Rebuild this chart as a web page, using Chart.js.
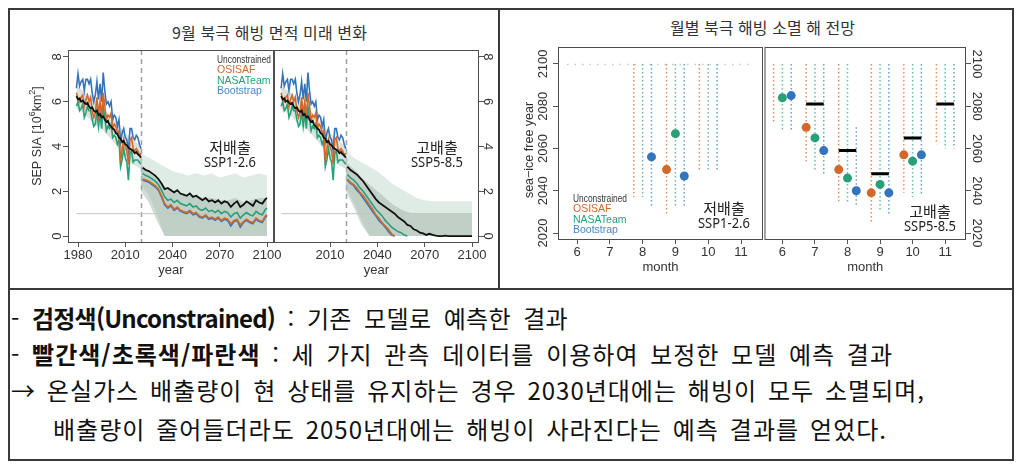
<!DOCTYPE html>
<html lang="ko">
<head>
<meta charset="utf-8">
<title>북극 해빙 전망</title>
<script src="https://cdn.jsdelivr.net/npm/chart.js@4.4.1/dist/chart.umd.min.js"></script>
<style>
  body { margin: 0; width: 1024px; height: 470px; background: #fff; position: relative; overflow: hidden; }
  .abs { position: absolute; }
  #frame { left: 8px; top: 8px; width: 1006px; height: 453px; border: 2px solid #3a3a3a; box-sizing: border-box; }
  #hdiv { left: 8px; top: 288px; width: 1006px; height: 2px; background: #3a3a3a; }
  #vdiv { left: 498px; top: 8px; width: 2px; height: 281px; background: #3a3a3a; }
  .title { font-family: "Noto Sans CJK KR", sans-serif; font-size: 16px; color: #333; white-space: nowrap; line-height: 22px; }
  .note { font-family: "Noto Sans CJK KR", sans-serif; font-size: 24px; color: #111; white-space: nowrap; line-height: 28px; letter-spacing: 1px; }
  .note b { font-weight: 700; }
  #note1 { letter-spacing: 0.3px; }
  #note1 b { letter-spacing: -0.8px; }
  canvas { position: absolute; }
</style>
</head>
<body>
<div id="frame" class="abs"></div>
<div id="hdiv" class="abs"></div>
<div id="vdiv" class="abs"></div>
<div class="abs title fit" data-w="195" style="left:172px; top:21px;">9월 북극 해빙 면적 미래 변화</div>
<div class="abs title fit" data-w="185" style="left:670px; top:16px;">월별 북극 해빙 소멸 해 전망</div>

<canvas id="sia-126" width="270" height="250" style="left:20px; top:40px;"></canvas>
<canvas id="sia-585" width="230" height="250" style="left:270px; top:40px;"></canvas>
<canvas id="free-126" width="270" height="250" style="left:500px; top:40px;"></canvas>
<canvas id="free-585" width="250" height="250" style="left:760px; top:40px;"></canvas>

<div id="note1" class="abs note wfit" data-w="557" style="left:11px; top:304px;">- <b>검정색(Unconstrained)</b> : 기존 모델로 예측한 결과</div>
<div class="abs note wfit" data-w="882" style="left:11px; top:340px;">- <b>빨간색/초록색/파란색</b> : 세 가지 관측 데이터를 이용하여 보정한 모델 예측 결과</div>
<div class="abs note wfit" data-w="914" style="left:11px; top:376px;">→ 온실가스 배출량이 현 상태를 유지하는 경우 2030년대에는 해빙이 모두 소멸되며,</div>
<div class="abs note wfit" data-w="834" style="left:53px; top:415px;">배출량이 줄어들더라도 2050년대에는 해빙이 사라진다는 예측 결과를 얻었다.</div>

<script>
// ---- September sea-ice area (10^6 km^2) ----
const histYears = [1979,1980,1981,1982,1983,1984,1985,1986,1987,1988,1989,1990,1991,1992,1993,1994,1995,1996,1997,1998,1999,2000,2001,2002,2003,2004,2005,2006,2007,2008,2009,2010,2011,2012,2013,2014,2015,2016,2017,2018,2019,2020];
const histUnc  = [6.25,6.1,6.15,6.0,6.05,5.95,5.9,5.95,5.8,5.7,5.75,5.6,5.55,5.6,5.4,5.45,5.3,5.35,5.2,5.1,5.15,4.95,4.9,4.8,4.75,4.6,4.55,4.4,4.35,4.2,4.25,4.1,4.05,3.95,3.9,3.85,3.8,3.7,3.75,3.65,3.6,3.5];
const histOsi  = [6.4,6.1,6.0,6.2,6.3,5.8,6.1,6.3,6.0,6.2,5.6,5.3,5.5,6.2,5.4,6.0,5.3,6.4,5.8,5.2,5.4,5.3,5.5,4.8,5.0,4.9,4.6,4.7,3.3,3.9,4.3,4.0,3.8,3.2,4.3,4.4,3.9,3.8,3.9,3.8,3.6,3.7];
const histNasa = [5.8,6.0,5.6,5.7,5.9,5.3,5.5,5.8,5.6,5.6,5.2,4.9,5.0,5.6,4.9,5.5,4.8,5.8,5.3,4.7,4.9,4.8,5.0,4.4,4.5,4.4,4.1,4.3,3.1,3.4,3.9,3.5,3.3,2.5,3.7,3.8,3.3,3.4,3.4,3.4,3.3,3.2];
const histBoot = [6.6,7.25,6.7,6.9,7.0,6.5,7.0,7.0,6.8,7.0,6.4,6.0,6.3,6.9,6.1,6.8,6.0,7.3,6.5,5.9,6.0,5.8,6.0,5.2,5.4,5.3,4.9,5.2,4.2,4.6,4.8,4.4,4.3,3.8,4.8,4.8,4.4,4.3,4.5,4.4,4.1,3.9];

const histBandYears = [1979,1985,1990,1995,2000,2005,2010,2015,2020];
const histBandHi = [6.7,6.4,6.1,5.8,5.4,5.0,4.6,4.3,4.0];
const histBandLo = [5.7,5.4,5.0,4.8,4.4,4.0,3.6,3.2,3.0];

const futYears = [2021,2023,2025,2027,2029,2031,2033,2035,2037,2039,2041,2043,2045,2047,2049,2051,2053,2055,2057,2059,2061,2063,2065,2067,2069,2071,2073,2075,2077,2079,2081,2083,2085,2087,2089,2091,2093,2095,2097,2099,2100];

const ssp126Unc  = [3.05,2.95,2.9,2.8,2.7,2.55,2.35,2.1,2.15,2.05,1.95,2.05,1.9,1.85,1.8,1.9,1.75,1.8,1.7,1.6,1.7,1.55,1.6,1.5,1.6,1.45,1.55,1.5,1.3,1.45,1.55,1.3,1.4,1.55,1.45,1.35,1.6,1.5,1.45,1.65,1.7];
const ssp126Osi  = [2.55,2.5,2.45,2.35,2.25,2.1,1.8,1.45,1.3,1.4,1.2,1.3,1.15,1.1,1.05,1.15,1.0,1.05,0.9,0.85,0.95,0.8,0.85,0.75,0.85,0.7,0.8,0.75,0.55,0.7,0.75,0.5,0.65,0.75,0.65,0.6,0.8,0.7,0.65,0.9,0.95];
const ssp126Nasa = [2.8,2.7,2.65,2.55,2.45,2.3,2.05,1.75,1.6,1.65,1.5,1.6,1.45,1.4,1.35,1.45,1.3,1.35,1.2,1.15,1.25,1.1,1.15,1.05,1.15,1.0,1.1,1.05,0.85,1.0,1.05,0.8,0.95,1.05,0.95,0.9,1.1,1.0,0.95,1.2,1.25];
const ssp126Boot = [2.5,2.45,2.4,2.3,2.2,2.05,1.75,1.4,1.25,1.35,1.15,1.25,1.1,1.05,1.0,1.1,0.95,1.0,0.85,0.8,0.9,0.75,0.8,0.7,0.8,0.65,0.75,0.7,0.45,0.65,0.7,0.4,0.6,0.7,0.6,0.55,0.75,0.65,0.6,0.85,0.9];

const ssp585Unc  = [3.1,2.95,2.85,2.75,2.6,2.45,2.25,2.05,1.85,1.65,1.5,1.4,1.3,1.2,1.1,1.0,0.85,0.75,0.65,0.5,0.45,0.3,0.25,0.15,0.12,0.05,0.1,0.05,0.02,0,0,0.02,0,0,0,0,0,0,0,0,0];
const ssp585Osi  = [2.55,2.4,2.3,2.15,1.95,1.8,1.6,1.4,1.2,0.95,0.8,0.6,0.45,0.3,0.1,0,null,null,null,null,null,null,null,null,null,null,null,null,null,null,null,null,null,null,null,null,null,null,null,null,null];
const ssp585Nasa = [2.75,2.6,2.5,2.35,2.15,2.0,1.8,1.6,1.4,1.2,1.05,0.9,0.7,0.55,0.4,0.3,0.2,0.15,0.05,0,null,null,null,null,null,null,null,null,null,null,null,null,null,null,null,null,null,null,null,null,null];
const ssp585Boot = [2.5,2.35,2.25,2.05,1.9,1.7,1.5,1.3,1.1,0.9,0.7,0.55,0.4,0.2,0.05,0,null,null,null,null,null,null,null,null,null,null,null,null,null,null,null,null,null,null,null,null,null,null,null,null,null];

const bandYears = [2020,2025,2030,2035,2040,2045,2050,2055,2060,2065,2070,2075,2080,2085,2090,2095,2100];
const ssp126OuterHi = [3.7,3.5,3.3,3.1,2.9,2.8,2.7,2.8,2.7,2.8,2.6,2.7,2.8,2.6,2.7,2.8,2.7];
const ssp126OuterLo = [2.3,1.8,1.0,0,0,0,0,0,0,0,0,0,0,0,0,0,0];
const ssp126InnerHi = [3.2,2.9,2.6,2.2,2.0,1.9,1.8,1.8,1.7,1.7,1.6,1.6,1.7,1.5,1.6,1.7,1.7];
const ssp126InnerLo = [2.0,1.5,0.7,0,0,0,0,0,0,0,0,0,0,0,0,0,0];
const ssp585OuterHi = [3.8,3.5,3.3,3.1,2.9,2.6,2.3,2.1,1.9,1.7,1.6,1.55,1.55,1.55,1.55,1.55,1.55];
const ssp585OuterLo = [2.2,1.5,0.7,0,0,0,0,0,0,0,0,0,0,0,0,0,0];
const ssp585InnerHi = [3.3,3.0,2.6,2.3,2.0,1.7,1.4,1.2,1.05,1.0,1.0,1.0,1.0,1.0,1.0,1.0,1.0];
const ssp585InnerLo = [2.0,1.3,0.5,0,0,0,0,0,0,0,0,0,0,0,0,0,0];

const refLevel = 1;
const splitYear = 2020;
const areaTicks = [0,2,4,6,8];
const yearTicksA = [1980,2010,2040,2070,2100];
const yearTicksB = [2010,2040,2070,2100];

// ---- sea-ice free year by month ----
const months = [6,7,8,9,10,11];
const freeYearTicks = [2020,2040,2060,2080,2100];
const horizonYear = 2100;

const osiHi126  = [null,null,2100,2100,2100,null];
const osiLo126  = [null,null,2037,2028,2050,null];
const nasaHi126 = [null,null,2100,2100,2100,null];
const nasaLo126 = [null,null,2037,2033,2050,null];
const bootHi126 = [null,null,2100,2100,2100,null];
const bootLo126 = [null,null,2033,2033,2050,null];
const osiPt126  = [null,null,null,2050,null,null];
const nasaPt126 = [null,null,null,2067,null,null];
const bootPt126 = [null,null,2056,2047,null,null];
const uncBar126 = [null,null,null,null,null,null];

const osiHi585  = [2100,2100,2100,2100,2100,2100];
const osiLo585  = [2072,2054,2035,2025,2039,2062];
const nasaHi585 = [2100,2100,2100,2100,2100,2100];
const nasaLo585 = [2069,2049,2034,2030,2037,2060];
const bootHi585 = [2100,2100,2070,2100,2100,2100];
const bootLo585 = [2069,2048,2033,2028,2038,2060];
const osiPt585  = [null,2070,2050,2039,2057,null];
const nasaPt585 = [2084,2065,2046,2043,2054,null];
const bootPt585 = [2085,2059,2040,2039,2057,null];
const uncBar585 = [null,2081,2059,2048,2065,2081];

const legendNames = ['Unconstrained','OSISAF','NASATeam','Bootstrap'];

// ---- styles ----
const FONT = '"Liberation Sans", Arial, sans-serif';
const KFONT = '"Noto Sans CJK KR", sans-serif';
const colUnc = '#111111', colOsi = '#d2692a', colNasa = '#27a07a', colBoot = '#3474bd';
const dotOsi = '#e39066', dotNasa = '#6cbcac', dotBoot = '#6c9dd3';
const legendColors = ['#333333', colOsi, colNasa, '#4a86c8'];
const DODGE = 0.27;

Chart.defaults.font.family = FONT;
Chart.defaults.color = '#333';

function xy(xs, ys) {
  return xs.map((x, i) => ({x: x, y: ys[i]}));
}

function line(xs, ys, color, width, order) {
  return {data: xy(xs, ys), borderColor: color, borderWidth: width, pointRadius: 0, fill: false, order: order, tension: 0};
}

function band(xs, hi, lo, color, order) {
  return [
    {data: xy(xs, hi), borderColor: 'rgba(0,0,0,0)', pointRadius: 0, fill: false, order: order},
    {data: xy(xs, lo), borderColor: 'rgba(0,0,0,0)', pointRadius: 0, fill: '-1', backgroundColor: color, order: order}
  ];
}

function rangeLine(offset, hi, lo, color) {
  const out = [];
  months.forEach((m, i) => {
    if (lo[i] == null) return;
    out.push({x: m + offset, y: hi[i]}, {x: m + offset, y: lo[i]}, {x: m + offset, y: null});
  });
  return {data: out, borderColor: color, borderWidth: 1.5, borderDash: [1.5, 2.5], pointRadius: 0, fill: false, order: 6};
}

function dots(offset, vals, color) {
  return {data: xy(months.map(m => m + offset), vals), showLine: false, pointRadius: 4.5, pointHoverRadius: 4.5,
    pointBorderWidth: 0, pointBackgroundColor: color, borderColor: color, order: 2};
}

function bars(vals) {
  const out = [];
  months.forEach((m, i) => {
    if (vals[i] == null) return;
    out.push({x: m - DODGE, y: vals[i]}, {x: m + DODGE, y: vals[i]}, {x: m + DODGE, y: null});
  });
  return {data: out, borderColor: '#000', borderWidth: 3, pointRadius: 0, fill: false, order: 1};
}

function drawRich(ctx, parts, size) {
  const small = Math.round(size * 0.7);
  let w = 0;
  parts.forEach(p => {
    ctx.font = (p.sup ? small : size) + 'px ' + FONT;
    p.w = ctx.measureText(p.t).width;
    w += p.w;
  });
  let x = -w / 2;
  ctx.textAlign = 'left';
  parts.forEach(p => {
    ctx.font = (p.sup ? small : size) + 'px ' + FONT;
    ctx.fillText(p.t, x, p.sup ? -size * 0.4 : 0);
    x += p.w;
  });
}

const deco = {
  id: 'deco',
  beforeDatasetsDraw(chart, args, o) {
    const {ctx, chartArea: a, scales: {x, y}} = chart;
    ctx.save();
    if (o.split != null) {
      const px = Math.round(x.getPixelForValue(o.split)) + 0.5;
      ctx.strokeStyle = '#a0a0a0';
      ctx.lineWidth = 1.5;
      ctx.setLineDash([5, 4]);
      ctx.beginPath(); ctx.moveTo(px, a.top); ctx.lineTo(px, a.bottom); ctx.stroke();
    }
    if (o.horizon != null) {
      const py = Math.round(y.getPixelForValue(o.horizon)) + 0.5;
      ctx.strokeStyle = '#c8c8c8';
      ctx.lineWidth = 1.5;
      ctx.setLineDash([1.5, 6]);
      ctx.beginPath(); ctx.moveTo(a.left + 9, py); ctx.lineTo(a.right - 10, py); ctx.stroke();
    }
    ctx.restore();
  },
  afterDraw(chart, args, o) {
    const {ctx, chartArea: a, scales: {y}} = chart;
    ctx.save();
    ctx.strokeStyle = '#4d4d4d';
    ctx.lineWidth = 1;
    ctx.strokeRect(a.left + 0.5, a.top + 0.5, a.right - a.left - 1, a.bottom - a.top - 1);

    ctx.fillStyle = '#333';
    ctx.textBaseline = 'middle';
    ctx.textAlign = 'center';
    ctx.font = '13px ' + FONT;
    y.ticks.forEach(t => {
      ctx.save();
      ctx.translate(o.yLabelX, y.getPixelForValue(t.value));
      ctx.rotate(o.yLabelRot);
      ctx.fillText(String(t.value), 0, 0);
      ctx.restore();
    });
    ctx.fillText(o.xTitle, (a.left + a.right) / 2, a.bottom + 27);

    if (o.yTitle) {
      ctx.save();
      ctx.translate(o.yTitle.x, o.yTitle.y);
      ctx.rotate(-Math.PI / 2);
      drawRich(ctx, o.yTitle.parts, 12.5);
      ctx.restore();
    }

    if (o.legend) {
      ctx.textAlign = 'left';
      ctx.font = '10.5px ' + FONT;
      legendNames.forEach((n, i) => {
        ctx.fillStyle = legendColors[i];
        ctx.fillText(n, o.legend.x, o.legend.y + i * 10.4, 54);
      });
    }

    ctx.fillStyle = '#222';
    ctx.textAlign = 'center';
    ctx.font = '15px ' + KFONT;
    ctx.fillText(o.note[0], o.note[2], o.note[3]);
    ctx.font = '15px "Noto Sans", sans-serif';
    ctx.fillText(o.note[1], o.note[2], o.note[3] + 16, 52);
    ctx.restore();
  }
};

function axisX(min, max, ticks, height) {
  return {
    type: 'linear', min: min, max: max,
    afterBuildTicks: s => { s.ticks = ticks.map(v => ({value: v})); },
    afterFit: s => { s.height = height; },
    ticks: {autoSkip: false, maxRotation: 0, minRotation: 0, padding: 1, color: '#333', font: {size: 13}, callback: v => String(v)},
    grid: {display: true, drawOnChartArea: false, drawTicks: true, tickLength: 4, color: '#555'},
    border: {display: false}
  };
}

function axisY(min, max, ticks, position, width) {
  return {
    type: 'linear', min: min, max: max, position: position,
    afterBuildTicks: s => { s.ticks = ticks.map(v => ({value: v})); },
    afterFit: s => { s.width = width; },
    ticks: {display: false},
    grid: {display: true, drawOnChartArea: false, drawTicks: true, tickLength: 5, color: '#555'},
    border: {display: false}
  };
}

function siaChart(id, fut, cfg) {
  const datasets = [
    line(histYears, histUnc, colUnc, 1.8, 1),
    line(histYears, histOsi, colOsi, 1.6, 2),
    line(histYears, histNasa, colNasa, 1.6, 3),
    line(histYears, histBoot, colBoot, 1.6, 4),
    line(futYears, fut.unc, colUnc, 1.8, 1),
    line(futYears, fut.osi, colOsi, 1.6, 2),
    line(futYears, fut.nasa, colNasa, 1.6, 3),
    line(futYears, fut.boot, colBoot, 1.6, 4),
    line([histYears[0], futYears[futYears.length - 1]], [refLevel, refLevel], '#c4c4c4', 1, 5),
    ...band(histBandYears, histBandHi, histBandLo, 'rgba(165,182,172,0.4)', 6),
    ...band(bandYears, fut.innerHi, fut.innerLo, 'rgba(158,176,165,0.45)', 7),
    ...band(bandYears, fut.outerHi, fut.outerLo, 'rgba(196,218,208,0.55)', 8)
  ];
  return new Chart(document.getElementById(id), {
    type: 'line',
    data: {datasets: datasets},
    options: {
      responsive: false, animation: false, devicePixelRatio: 1,
      layout: {padding: cfg.padding},
      plugins: {legend: {display: false}, tooltip: {enabled: false}, deco: cfg.deco},
      scales: {x: axisX(cfg.xMin, cfg.xMax, cfg.xTicks, 47), y: axisY(-0.31, 8.31, areaTicks, cfg.yPos, cfg.yWidth)}
    },
    plugins: [deco]
  });
}

function freeChart(id, d, cfg) {
  const datasets = [
    bars(d.unc),
    dots(-DODGE, d.osiPt, colOsi),
    dots(0, d.nasaPt, colNasa),
    dots(DODGE, d.bootPt, colBoot),
    rangeLine(-DODGE, d.osiHi, d.osiLo, dotOsi),
    rangeLine(0, d.nasaHi, d.nasaLo, dotNasa),
    rangeLine(DODGE, d.bootHi, d.bootLo, dotBoot)
  ];
  return new Chart(document.getElementById(id), {
    type: 'line',
    data: {datasets: datasets},
    options: {
      responsive: false, animation: false, devicePixelRatio: 1,
      layout: {padding: cfg.padding},
      plugins: {legend: {display: false}, tooltip: {enabled: false}, deco: cfg.deco},
      scales: {x: axisX(cfg.xMin, cfg.xMax, months, 50), y: axisY(2016.7, 2108, freeYearTicks, cfg.yPos, cfg.yWidth)}
    },
    plugins: [deco]
  });
}

const siaLow = siaChart('sia-126', {
  unc: ssp126Unc, osi: ssp126Osi, nasa: ssp126Nasa, boot: ssp126Boot,
  outerHi: ssp126OuterHi, outerLo: ssp126OuterLo, innerHi: ssp126InnerHi, innerLo: ssp126InnerLo
}, {
  padding: {left: 0, top: 10, right: 16, bottom: 0},
  xMin: 1973.65, xMax: 2104.4, xTicks: yearTicksA, yPos: 'left', yWidth: 48,
  deco: {
    split: splitYear, yLabelX: 37, yLabelRot: -Math.PI / 2, xTitle: 'year',
    yTitle: {x: 18, y: 96, parts: [{t: 'SEP SIA [10'}, {t: '6', sup: true}, {t: 'km'}, {t: '2', sup: true}, {t: ']'}]},
    legend: {x: 197, y: 20},
    note: ['저배출', 'SSP1-2.6', 210, 107]
  }
});

const siaHigh = siaChart('sia-585', {
  unc: ssp585Unc, osi: ssp585Osi, nasa: ssp585Nasa, boot: ssp585Boot,
  outerHi: ssp585OuterHi, outerLo: ssp585OuterLo, innerHi: ssp585InnerHi, innerLo: ssp585InnerLo
}, {
  padding: {left: 4, top: 10, right: 0, bottom: 0},
  xMin: 1974.5, xMax: 2104.4, xTicks: yearTicksB, yPos: 'right', yWidth: 21,
  deco: {
    split: splitYear, yLabelX: 218, yLabelRot: Math.PI / 2, xTitle: 'year',
    note: ['고배출', 'SSP5-8.5', 167, 107]
  }
});

const freeLow = freeChart('free-126', {
  unc: uncBar126, osiPt: osiPt126, nasaPt: nasaPt126, bootPt: bootPt126,
  osiHi: osiHi126, osiLo: osiLo126, nasaHi: nasaHi126, nasaLo: nasaLo126, bootHi: bootHi126, bootLo: bootLo126
}, {
  padding: {left: 0, top: 7, right: 7, bottom: 0},
  xMin: 5.42, xMax: 11.67, yPos: 'left', yWidth: 58,
  deco: {
    horizon: horizonYear, yLabelX: 43, yLabelRot: -Math.PI / 2, xTitle: 'month',
    yTitle: {x: 30, y: 110, parts: [{t: 'sea\u2212ice free year'}]},
    legend: {x: 73, y: 159},
    note: ['저배출', 'SSP1-2.6', 224, 168]
  }
});

const freeHigh = freeChart('free-585', {
  unc: uncBar585, osiPt: osiPt585, nasaPt: nasaPt585, bootPt: bootPt585,
  osiHi: osiHi585, osiLo: osiLo585, nasaHi: nasaHi585, nasaLo: nasaLo585, bootHi: bootHi585, bootLo: bootLo585
}, {
  padding: {left: 3, top: 7, right: 0, bottom: 0},
  xMin: 5.45, xMax: 11.64, yPos: 'right', yWidth: 44,
  deco: {
    yLabelX: 217, yLabelRot: Math.PI / 2, xTitle: 'month',
    note: ['고배출', 'SSP5-8.5', 170, 171]
  }
});

// stretch text to the widths in the picture: titles by letters, notes by word gaps
function fitText() {
  document.querySelectorAll('.fit').forEach(el => {
    el.style.letterSpacing = '0px';
    const w = el.getBoundingClientRect().width;
    el.style.letterSpacing = ((+el.dataset.w - w) / el.textContent.length) + 'px';
  });
  document.querySelectorAll('.wfit').forEach(el => {
    el.style.wordSpacing = '0px';
    const w = el.getBoundingClientRect().width;
    const gaps = (el.textContent.match(/ /g) || []).length;
    el.style.wordSpacing = Math.max(0, (+el.dataset.w - w) / gaps) + 'px';
  });
}
fitText();
if (document.fonts && document.fonts.ready) document.fonts.ready.then(fitText);
</script>
</body>
</html>
